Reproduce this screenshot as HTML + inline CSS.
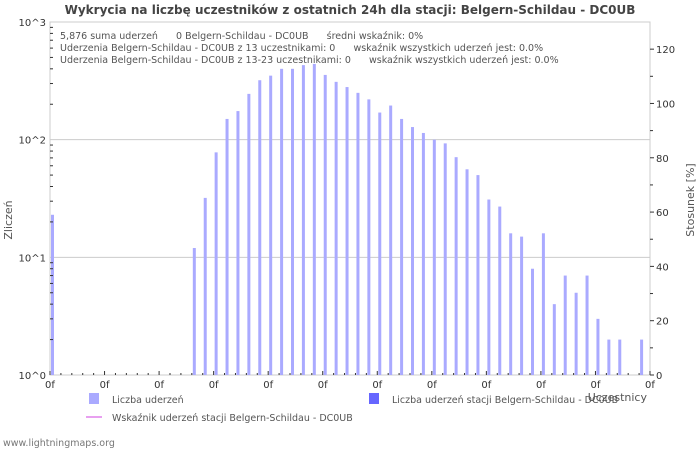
<!DOCTYPE html>
<html><head><meta charset="utf-8"><style>
body{margin:0;background:#fff;font-family:"Liberation Sans","DejaVu Sans",sans-serif}
svg text{font-family:"DejaVu Sans","Liberation Sans",sans-serif}
.pre{white-space:pre}
</style></head><body>
<svg id="c" width="700" height="450" xmlns="http://www.w3.org/2000/svg">
<text x="350" y="14" text-anchor="middle" font-size="12" font-weight="bold" fill="#444">Wykrycia na liczbę uczestników z ostatnich 24h dla stacji: Belgern-Schildau - DC0UB</text>
<rect x="50" y="22" width="600" height="353" fill="#fff" stroke="#ccc"/>
<g id="grid"></g><g id="bars"></g><g id="axes"></g>
<g font-size="9.5" fill="#555" xml:space="preserve">
<text class="pre" x="60" y="39">5,876 suma uderzeń      0 Belgern-Schildau - DC0UB      średni wskaźnik: 0%</text>
<text class="pre" x="60" y="51">Uderzenia Belgern-Schildau - DC0UB z 13 uczestnikami: 0      wskaźnik wszystkich uderzeń jest: 0.0%</text>
<text class="pre" x="60" y="63">Uderzenia Belgern-Schildau - DC0UB z 13-23 uczestnikami: 0      wskaźnik wszystkich uderzeń jest: 0.0%</text>
</g>
<text transform="translate(12,220) rotate(-90)" text-anchor="middle" font-size="11" fill="#555">Zliczeń</text>
<text transform="translate(694,200) rotate(-90)" text-anchor="middle" font-size="11" fill="#555">Stosunek [%]</text>
<text x="647" y="401" text-anchor="end" font-size="11" fill="#555">Uczestnicy</text>
<g font-size="9.5" fill="#555">
<rect x="89" y="393" width="10" height="11" fill="#aaaaff"/>
<text x="112" y="403">Liczba uderzeń</text>
<rect x="369" y="393" width="10" height="11" fill="#6666ff"/>
<text x="392" y="403">Liczba uderzeń stacji Belgern-Schildau - DC0UB</text>
<line x1="86" y1="417" x2="102" y2="417" stroke="#e8a0f0" stroke-width="2"/>
<text x="112" y="421">Wskaźnik uderzeń stacji Belgern-Schildau - DC0UB</text>
</g>
<text x="3" y="446" font-size="9.5" fill="#777">www.lightningmaps.org</text>
</svg>
<script>
const counts=[23,0,0,0,0,0,0,0,0,0,0,0,0,12,32,78,150,175,245,320,350,400,400,430,440,355,310,280,250,220,170,195,150,128,114,100,93,71,56,50,31,27,16,15,8,16,4,7,5,7,3,2,2,0,2];
const yTicks=[0,1,2,3];
const y2Ticks=[0,20,40,60,80,100,120];
const xLabels=["0f","0f","0f","0f","0f","0f","0f","0f","0f","0f","0f","0f"];
const NS="http://www.w3.org/2000/svg";
const L=50,R=650,T=22,B=375;
const n=counts.length, step=(R-L)/n;
const y=v=>B-Math.log10(v)*(B-T)/3;
const y2=v=>B-v*(B-T)/130;
const x=i=>L+i*step;
function mk(tag,a,p){const e=document.createElementNS(NS,tag);for(const k in a)e.setAttribute(k,a[k]);document.getElementById(p).appendChild(e);return e;}
[1,2].forEach(d=>{const g=mk('line',{x1:L,x2:R,y1:y(Math.pow(10,d)),y2:y(Math.pow(10,d)),stroke:'#ccc'},'grid');

});
counts.forEach((v,i)=>{if(v<=0)return;const b=mk('rect',{x:x(i)+1,y:y(v),width:3,height:B-y(v),fill:'#aaaaff'},'bars');

});
yTicks.forEach(d=>{const t=mk('text',{x:46,y:y(Math.pow(10,d))+4,'text-anchor':'end','font-size':10,fill:'#333'},'axes');t.textContent='10^'+d;


for(let k=2;k<10&&d<3;k++){mk('line',{x1:50,x2:53,y1:y(k*Math.pow(10,d)),y2:y(k*Math.pow(10,d)),stroke:'#333'},'axes');}});
y2Ticks.forEach(v=>{mk('line',{x1:R,x2:R+4,y1:y2(v),y2:y2(v),stroke:'#333'},'axes');
const t=mk('text',{x:R+6,y:y2(v)+4,'font-size':10,fill:'#333'},'axes');t.textContent=v;


if(v<120){mk('line',{x1:R,x2:R+3,y1:y2(v+10),y2:y2(v+10),stroke:'#333'},'axes');}});
for(let i=0;i<=n;i++){mk('line',{x1:x(i),x2:x(i),y1:B,y2:B-(i%5==0?4:2),stroke:'#333'},'axes');}
xLabels.forEach((l,j)=>{const t=mk('text',{x:x(j*5),y:388,'text-anchor':'middle','font-size':10,fill:'#333'},'axes');t.textContent=l;

});
</script>
</body></html>
